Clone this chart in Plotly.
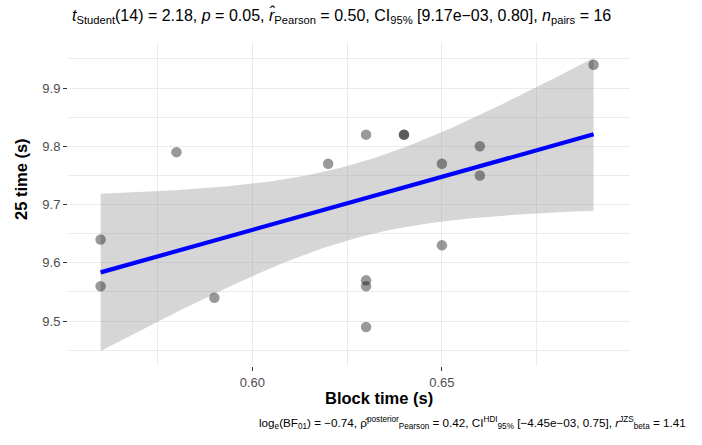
import numpy as np
import plotly.graph_objects as go

# ---- data ----
block_time = [0.56, 0.56, 0.58, 0.59, 0.62, 0.63, 0.63, 0.63, 0.63,
              0.64, 0.64, 0.65, 0.65, 0.66, 0.66, 0.69]
time_25 = [9.64, 9.56, 9.79, 9.54, 9.77, 9.82, 9.57, 9.56, 9.49,
           9.82, 9.82, 9.77, 9.63, 9.80, 9.75, 9.94]
x_ticks = [0.60, 0.65]
x_tick_labels = ["0.60", "0.65"]
x_minor = [0.575, 0.625, 0.675]
y_ticks = [9.5, 9.6, 9.7, 9.8, 9.9]
y_tick_labels = ["9.5", "9.6", "9.7", "9.8", "9.9"]
y_minor = [9.45, 9.55, 9.65, 9.75, 9.85, 9.95]

title_text = ("<i>t</i><sub>Student</sub>(14) = 2.18, <i>p</i> = 0.05, "
              "<i>r̂</i><sub>Pearson</sub> = 0.50, CI<sub>95%</sub> [9.17e−03, 0.80], "
              "<i>n</i><sub>pairs</sub> = 16")
caption_text = ("log<sub>e</sub>(BF<sub>01</sub>) = −0.74, "
                "ρ̂<sup>posterior</sup><sub>Pearson</sub> = 0.42, "
                "CI<sup>HDI</sup><sub>95%</sub> [−4.45e−03, 0.75], "
                "<i>r</i><sup>JZS</sup><sub>beta</sub> = 1.41")

# ---- linear fit with 95% confidence band ----
x = np.array(block_time)
y = np.array(time_25)
n = len(x)
b1, b0 = np.polyfit(x, y, 1)
xs = np.linspace(x.min(), x.max(), 100)
fit = b0 + b1 * xs
resid = y - (b0 + b1 * x)
s = np.sqrt(np.sum(resid ** 2) / (n - 2))
sxx = np.sum((x - x.mean()) ** 2)
tcrit = 2.1447866879  # t(0.975, df=14)
se = s * np.sqrt(1 / n + (xs - x.mean()) ** 2 / sxx)
lo = fit - tcrit * se
hi = fit + tcrit * se

# ---- layout geometry (pixels) ----
W, H = 702, 445
L, T = 68, 42
pw, ph = 562, 324
R, B = W - L - pw, H - T - ph


def px(xp):
    return (xp - L) / pw


def py(yp):
    return (T + ph - yp) / ph


fig = go.Figure()
fig.add_trace(go.Scatter(x=xs, y=lo, mode="lines", line=dict(width=0),
                         showlegend=False, hoverinfo="skip"))
fig.add_trace(go.Scatter(x=xs, y=hi, mode="lines", line=dict(width=0),
                         fill="tonexty", fillcolor="rgba(153,153,153,0.4)",
                         showlegend=False, hoverinfo="skip"))
fig.add_trace(go.Scatter(x=block_time, y=time_25, mode="markers",
                         marker=dict(size=10.5, color="rgba(0,0,0,0.4)", line=dict(width=0)),
                         showlegend=False))
fig.add_trace(go.Scatter(x=xs, y=fit, mode="lines",
                         line=dict(color="#0000ff", width=4.2), showlegend=False))

font_family = "Liberation Sans, Arial, sans-serif"
axis_common = dict(showline=False, zeroline=False, gridcolor="#ebebeb", gridwidth=1,
                   ticks="outside", ticklen=4, tickcolor="#333333", tickwidth=1,
                   tickfont=dict(size=13, color="#4d4d4d", family=font_family))

fig.update_xaxes(range=[0.5514, 0.6996], tickvals=x_ticks, ticktext=x_tick_labels,
                 minor=dict(tickvals=x_minor, showgrid=True, gridcolor="#ebebeb",
                            gridwidth=1, ticks=""),
                 **axis_common)
fig.update_yaxes(range=[9.423, 9.979], tickvals=y_ticks, ticktext=y_tick_labels,
                 minor=dict(tickvals=y_minor, showgrid=True, gridcolor="#ebebeb",
                            gridwidth=1, ticks=""),
                 **axis_common)

annotations = [
    dict(text=title_text, x=px(341), y=py(15), xref="paper", yref="paper",
         xanchor="center", yanchor="middle", showarrow=False,
         font=dict(size=16, color="#000000", family=font_family)),
    dict(text=caption_text, x=px(688), y=py(423), xref="paper", yref="paper",
         xanchor="right", yanchor="middle", showarrow=False,
         font=dict(size=11.7, color="#000000", family=font_family)),
    dict(text="<b>Block time (s)</b>", x=px(379), y=py(398), xref="paper", yref="paper",
         xanchor="center", yanchor="middle", showarrow=False,
         font=dict(size=16.5, color="#000000", family=font_family)),
    dict(text="<b>25 time (s)</b>", x=px(21), y=py(179), xref="paper", yref="paper",
         xanchor="center", yanchor="middle", showarrow=False, textangle=-90,
         font=dict(size=16.5, color="#000000", family=font_family)),
]

fig.update_layout(width=W, height=H, margin=dict(l=L, r=R, t=T, b=B),
                  plot_bgcolor="white", paper_bgcolor="white",
                  annotations=annotations, font=dict(family=font_family))

fig.write_html("out.html", config={"displayModeBar": False},
               post_script="document.body.style.margin='0px';document.body.style.overflow='hidden';")
